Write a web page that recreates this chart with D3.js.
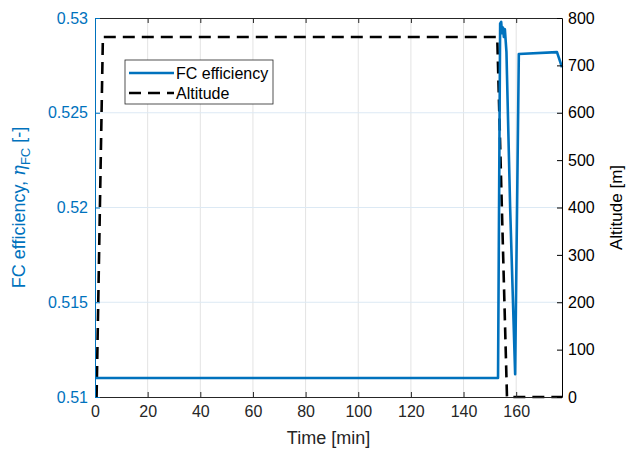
<!DOCTYPE html>
<html>
<head>
<meta charset="utf-8">
<script src="https://cdn.jsdelivr.net/npm/d3@7"></script>
<style>
  body { margin: 0; background: #fff; }
  text { font-family: "Liberation Sans", Arial, sans-serif; }
</style>
</head>
<body>
<svg id="chart" width="627" height="456"></svg>
<script>
// FC efficiency [-] vs time [min]
const effTime = [0, 153.1, 153.9, 154.3, 154.6, 155.0, 155.3, 155.7, 156.3, 156.5, 157.7, 159.6, 161.0, 175.5, 177.4];
const effValue = [0.511, 0.511, 0.5297, 0.5298, 0.5292, 0.5295, 0.529, 0.5294, 0.5282, 0.527, 0.52, 0.5112, 0.5281, 0.5282, 0.5274];

// Altitude [m] vs time [min]
const altTime = [0.6, 3.0, 152.8, 156.5, 177.4];
const altValue = [0, 760, 760, 0, 0];

const xTicks = [0, 20, 40, 60, 80, 100, 120, 140, 160];
const effTicks = [0.51, 0.515, 0.52, 0.525, 0.53];
const altTicks = [0, 100, 200, 300, 400, 500, 600, 700, 800];

const W = 627, H = 456;
const margin = { top: 18, right: 65, bottom: 59, left: 95 };
const iw = W - margin.left - margin.right;
const ih = H - margin.top - margin.bottom;

const blue = "#0072BD";
const dark = "#262626";

const svg = d3.select("#chart");
const g = svg.append("g").attr("transform", `translate(${margin.left},${margin.top})`);

const x = d3.scaleLinear().domain([0, 177.4]).range([0, iw]);
const yL = d3.scaleLinear().domain([0.51, 0.53]).range([ih, 0]);
const yR = d3.scaleLinear().domain([0, 800]).range([ih, 0]);

// grid
g.append("g").selectAll("line").data(xTicks.filter(d => d > 0)).join("line")
  .attr("x1", d => x(d)).attr("x2", d => x(d))
  .attr("y1", 0).attr("y2", ih)
  .attr("stroke", "#e3e3e3").attr("stroke-width", 1);
g.append("g").selectAll("line").data(effTicks.slice(1, -1)).join("line")
  .attr("x1", 0).attr("x2", iw)
  .attr("y1", d => yL(d)).attr("y2", d => yL(d))
  .attr("stroke", "#dce9f4").attr("stroke-width", 1);

// lines
const effLine = d3.line().x((d, i) => x(effTime[i])).y(d => yL(d));
const altLine = d3.line().x((d, i) => x(altTime[i])).y(d => yR(d));

svg.append("clipPath").attr("id", "clip")
  .append("rect").attr("x", -2).attr("y", -3).attr("width", iw + 4).attr("height", ih + 5);

g.append("path").datum(altValue)
  .attr("d", altLine)
  .attr("fill", "none").attr("stroke", "#000").attr("stroke-width", 2.6)
  .attr("stroke-dasharray", "12,7")
  .attr("clip-path", "url(#clip)");

g.append("path").datum(effValue)
  .attr("d", effLine)
  .attr("fill", "none").attr("stroke", blue).attr("stroke-width", 2.6)
  .attr("stroke-linejoin", "round")
  .attr("clip-path", "url(#clip)");

// axes
const xAxis = g.append("g").attr("transform", `translate(0,${ih})`)
  .call(d3.axisBottom(x).tickValues(xTicks).tickSizeInner(-5).tickSizeOuter(0).tickPadding(9));
const xTop = g.append("g")
  .call(d3.axisTop(x).tickValues(xTicks).tickSizeInner(-5).tickSizeOuter(0).tickFormat(""));
[xAxis, xTop].forEach(a => {
  a.select(".domain").attr("stroke", dark);
  a.selectAll(".tick line").attr("stroke", dark);
});
xAxis.selectAll(".tick text").attr("fill", dark).style("font-size", "16px");

const lAxis = g.append("g")
  .call(d3.axisLeft(yL).tickValues(effTicks).tickFormat(d3.format("")).tickSizeInner(-5).tickSizeOuter(0).tickPadding(7));
lAxis.select(".domain").attr("stroke", blue);
lAxis.selectAll(".tick line").attr("stroke", blue);
lAxis.selectAll(".tick text").attr("fill", blue).style("font-size", "16px");

const rAxis = g.append("g").attr("transform", `translate(${iw},0)`)
  .call(d3.axisRight(yR).tickValues(altTicks).tickSizeInner(-5).tickSizeOuter(0).tickPadding(6));
rAxis.select(".domain").attr("stroke", "#000");
rAxis.selectAll(".tick line").attr("stroke", "#000");
rAxis.selectAll(".tick text").attr("fill", "#000").style("font-size", "16px");

// axis labels
svg.append("text")
  .attr("x", margin.left + iw / 2).attr("y", 444)
  .attr("text-anchor", "middle").attr("fill", dark).style("font-size", "18px")
  .text("Time [min]");

const lt = svg.append("text")
  .attr("transform", `translate(25,${margin.top + ih / 2}) rotate(-90)`)
  .attr("text-anchor", "middle").attr("fill", blue).style("font-size", "18px");
lt.append("tspan").text("FC efficiency, ");
lt.append("tspan").text("η").style("font-style", "italic").style("font-family", "DejaVu Serif, serif");
lt.append("tspan").text("FC").attr("dy", 5).style("font-size", "13px");
lt.append("tspan").text(" [-]").attr("dy", -5);

svg.append("text")
  .attr("transform", `translate(622,${margin.top + ih / 2}) rotate(-90)`)
  .attr("text-anchor", "middle").attr("fill", "#000").style("font-size", "17px")
  .text("Altitude [m]");

// legend
const lg = svg.append("g").attr("transform", "translate(125,60)");
lg.append("rect").attr("width", 148).attr("height", 44)
  .attr("fill", "#fff").attr("stroke", dark).attr("stroke-width", 0.8);
const legendItems = [
  { label: "FC efficiency", color: blue, dash: null },
  { label: "Altitude", color: "#000", dash: "12,7" }
];
legendItems.forEach((d, i) => {
  const yy = 13 + i * 20;
  lg.append("line").attr("x1", 4).attr("x2", 49).attr("y1", yy).attr("y2", yy)
    .attr("stroke", d.color).attr("stroke-width", 2.6)
    .attr("stroke-dasharray", d.dash);
  lg.append("text").attr("x", 51).attr("y", yy + 5.5)
    .attr("fill", "#000").style("font-size", "16px").text(d.label);
});
</script>
</body>
</html>
